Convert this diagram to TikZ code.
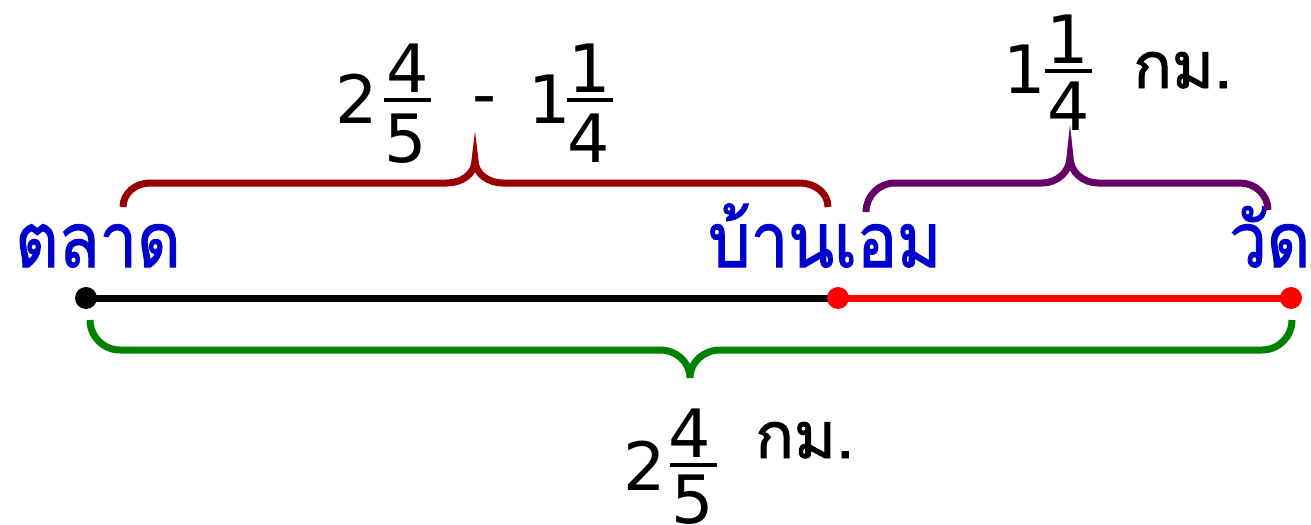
\documentclass[tikz,border=0pt]{standalone}
\usepackage{fontspec}
\newfontfamily\thaifont[Script=Thai, FakeBold=1.5, FakeStretch=0.88]{Loma}
\newfontfamily\unitfont[Script=Thai, FakeBold=1.5]{Loma}
\newfontfamily\digitfont{DejaVu Sans}
\definecolor{bracered}{HTML}{990000}
\definecolor{bracepurple}{HTML}{660066}
\definecolor{bracegreen}{HTML}{008000}
\definecolor{placeblue}{HTML}{0000CC}
\definecolor{segred}{HTML}{FF0000}
\begin{document}
\begin{tikzpicture}[x=0.75pt,y=-0.75pt,
  place/.style={font=\thaifont\fontsize{57}{66}\selectfont, text=placeblue, anchor=base west, inner sep=0pt},
  num/.style={font=\digitfont\fontsize{50}{60}\selectfont, anchor=base, inner sep=0pt},
  unit/.style={font=\unitfont\fontsize{48}{56}\selectfont, anchor=base west, inner sep=0pt},
  bar/.style={line width=2.8pt},
  seg/.style={line width=5.25pt},
  brace/.style={line width=5.25pt, line cap=butt},
  dot/.style={radius=8.25pt}]
\useasboundingbox (0,0) rectangle (1311,525);

% number line
\coordinate (A) at (86,298);
\coordinate (B) at (838,298);
\coordinate (C) at (1291,298);
\draw[seg, black] (A) -- (B);
\draw[seg, segred] (B) -- (C);
\fill[black] (A) circle[dot];
\fill[segred] (B) circle[dot];
\fill[segred] (C) circle[dot];

% place names
\node[place] (talat) at (15,267) {ตลาด};
\node[place] (ban) at (708,267) {บ้านเอม};
\node[place] (wat) at (1229,267) {วัด};

% top-left brace
\draw[brace, bracered] (123,207) to[out=90,in=180] (150,183) -- (447,183)
  to[out=0,in=-90] (475,160) to[out=-90,in=180] (503,183) -- (800,183)
  to[out=0,in=90] (828,207);
% top-right brace
\draw[brace, bracepurple] (866,212) to[out=90,in=180] (895,183) -- (1042,183)
  to[out=0,in=-90] (1070,157) to[out=-90,in=180] (1098,183) -- (1240,183)
  to[out=0,in=90] (1268,210);
% bottom brace
\draw[brace, bracegreen] (90,320) to[out=-90,in=180] (120,350) -- (660,350)
  to[out=0,in=90] (690,378) to[out=90,in=180] (720,350) -- (1262,350)
  to[out=0,in=-90] (1292,320);

% 2 4/5 - 1 1/4
\node[num] (f1w) at (357,123) {2};
\node[num] (f1n) at (408,92) {4};
\node[num] (f1d) at (406,162) {5};
\draw[bar] (384,100) -- (431,100);
\node[num] (minus) at (485,117) {-};
\node[num] (f2w) at (550,123) {1};
\node[num] (f2n) at (590,92) {1};
\node[num] (f2d) at (589,162) {4};
\draw[bar] (567,100) -- (613,100);

% 1 1/4 km
\node[num] (f3w) at (1025,93) {1};
\node[num] (f3n) at (1068,63) {1};
\node[num] (f3d) at (1069,130) {4};
\draw[bar] (1045,71) -- (1092,71);
\node[unit] (u1) at (1133,88) {กม.};

% 2 4/5 km
\node[num] (f4w) at (645,490) {2};
\node[num] (f4n) at (690,457) {4};
\node[num] (f4d) at (693,523) {5};
\draw[bar] (670,465) -- (717,465);
\node[unit] (u2) at (755,458) {กม.};
\end{tikzpicture}
\end{document}
